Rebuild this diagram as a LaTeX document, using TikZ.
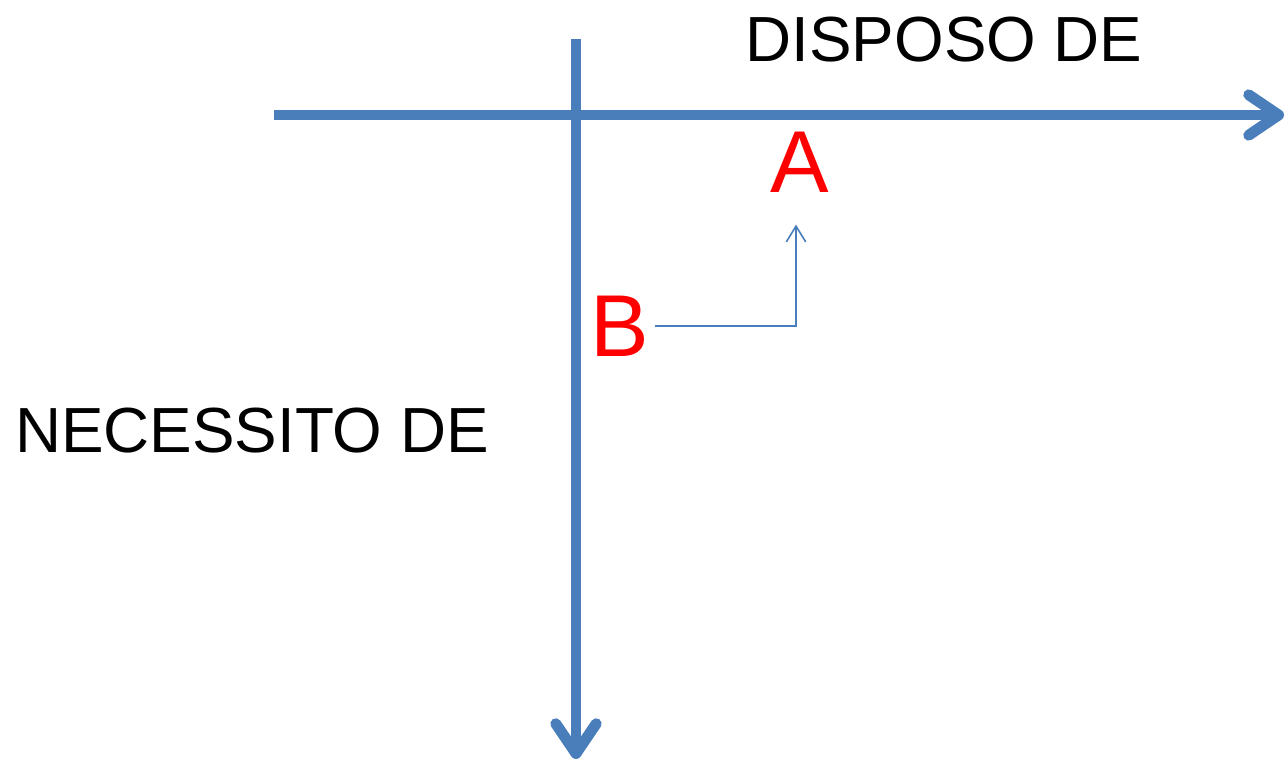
\documentclass[tikz,border=0pt]{standalone}
\usepackage{fontspec}
\setmainfont{Liberation Sans}
\usetikzlibrary{arrows.meta}
\definecolor{axblue}{RGB}{74,126,187}
\definecolor{lblred}{RGB}{255,0,0}

\begin{document}
\begin{tikzpicture}[x=0.02cm,y=-0.02cm,
      axis/.style={draw=axblue,line width=6.2pt,
        -{Straight Barb[length=17pt,width=23pt,line cap=round,line join=round]}},
      link/.style={draw=axblue,line width=0.9pt,
        -{Straight Barb[length=9pt,width=11pt]}},
      lbl/.style={inner sep=0pt,font=\fontsize{36.3}{40}\selectfont},
      big/.style={inner sep=0pt,text=lblred,font=\fontsize{50}{56}\selectfont}]
      \useasboundingbox (0,0) rectangle (1288,763);
      \coordinate (hstart) at (274,115);
      \coordinate (hend) at (1284,115);
      \coordinate (vstart) at (576,39);
      \coordinate (vend) at (576,759);
      \draw[axis] (hstart) -- (hend);
      \draw[axis] (vstart) -- (vend);
      \node[lbl] (disp) at (944,40) {DISPOSO DE};
      \node[lbl] (nec) at (252,431) {NECESSITO DE};
      \node[big] (a) at (800,162) {A};
      \node[big] (b) at (620,326) {B};
      \draw[link,shorten <=0.1cm,shorten >=0.64cm] (b.east) -| ([xshift=-0.08cm]a.south);
    \end{tikzpicture}
\end{document}
